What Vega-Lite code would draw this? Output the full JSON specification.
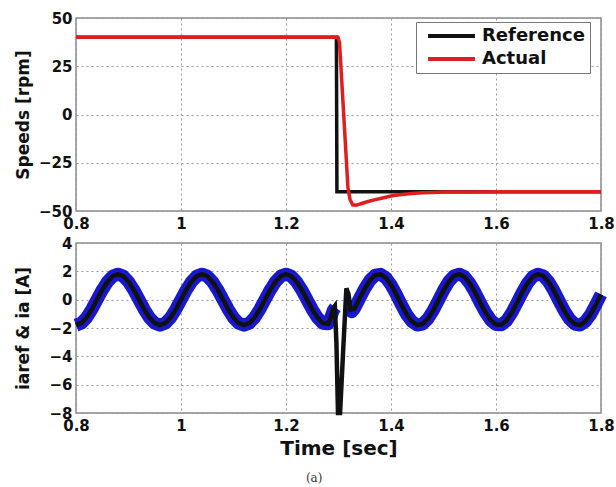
{
  "$schema": "https://vega.github.io/schema/vega-lite/v6.json",
  "padding": {"left": 13, "top": 10, "right": 3, "bottom": 4},
  "bounds": "flush",
  "spacing": 32,
  "title": {
    "text": "(a)",
    "orient": "bottom",
    "anchor": "middle",
    "font": "DejaVu Serif",
    "fontSize": 12,
    "fontWeight": "normal",
    "color": "#333",
    "offset": 14
  },
  "datasets": {
    "speed": [
      {"t": 0.8, "rpm": 40, "series": "Reference"},
      {"t": 1.296, "rpm": 40, "series": "Reference"},
      {"t": 1.297, "rpm": -40, "series": "Reference"},
      {"t": 1.8, "rpm": -40, "series": "Reference"},
      {"t": 0.8, "rpm": 40, "series": "Actual"},
      {"t": 1.299, "rpm": 40, "series": "Actual"},
      {"t": 1.302, "rpm": 37, "series": "Actual"},
      {"t": 1.318, "rpm": -38, "series": "Actual"},
      {"t": 1.322, "rpm": -44, "series": "Actual"},
      {"t": 1.327, "rpm": -46.8, "series": "Actual"},
      {"t": 1.333, "rpm": -47, "series": "Actual"},
      {"t": 1.34, "rpm": -46.5, "series": "Actual"},
      {"t": 1.35, "rpm": -45.6, "series": "Actual"},
      {"t": 1.36, "rpm": -44.8, "series": "Actual"},
      {"t": 1.37, "rpm": -44.1, "series": "Actual"},
      {"t": 1.38, "rpm": -43.5, "series": "Actual"},
      {"t": 1.4, "rpm": -42.2, "series": "Actual"},
      {"t": 1.42, "rpm": -41.4, "series": "Actual"},
      {"t": 1.44, "rpm": -40.9, "series": "Actual"},
      {"t": 1.46, "rpm": -40.6, "series": "Actual"},
      {"t": 1.48, "rpm": -40.4, "series": "Actual"},
      {"t": 1.5, "rpm": -40.2, "series": "Actual"},
      {"t": 1.55, "rpm": -40.1, "series": "Actual"},
      {"t": 1.6, "rpm": -40, "series": "Actual"},
      {"t": 1.8, "rpm": -40, "series": "Actual"}
    ],
    "ia": [
      {"t": 0.8, "i": -1.8, "seg": "a"}, {"t": 0.81, "i": -1.66, "seg": "a"}, {"t": 0.82, "i": -1.27, "seg": "a"},
      {"t": 0.83, "i": -0.69, "seg": "a"}, {"t": 0.84, "i": 0, "seg": "a"}, {"t": 0.85, "i": 0.69, "seg": "a"},
      {"t": 0.86, "i": 1.27, "seg": "a"}, {"t": 0.87, "i": 1.66, "seg": "a"}, {"t": 0.88, "i": 1.8, "seg": "a"},
      {"t": 0.89, "i": 1.66, "seg": "a"}, {"t": 0.9, "i": 1.27, "seg": "a"}, {"t": 0.91, "i": 0.69, "seg": "a"},
      {"t": 0.92, "i": 0, "seg": "a"}, {"t": 0.93, "i": -0.69, "seg": "a"}, {"t": 0.94, "i": -1.27, "seg": "a"},
      {"t": 0.95, "i": -1.66, "seg": "a"}, {"t": 0.96, "i": -1.8, "seg": "a"}, {"t": 0.97, "i": -1.66, "seg": "a"},
      {"t": 0.98, "i": -1.27, "seg": "a"}, {"t": 0.99, "i": -0.69, "seg": "a"}, {"t": 1.0, "i": 0, "seg": "a"},
      {"t": 1.01, "i": 0.69, "seg": "a"}, {"t": 1.02, "i": 1.27, "seg": "a"}, {"t": 1.03, "i": 1.66, "seg": "a"},
      {"t": 1.04, "i": 1.8, "seg": "a"}, {"t": 1.05, "i": 1.66, "seg": "a"}, {"t": 1.06, "i": 1.27, "seg": "a"},
      {"t": 1.07, "i": 0.69, "seg": "a"}, {"t": 1.08, "i": 0, "seg": "a"}, {"t": 1.09, "i": -0.69, "seg": "a"},
      {"t": 1.1, "i": -1.27, "seg": "a"}, {"t": 1.11, "i": -1.66, "seg": "a"}, {"t": 1.12, "i": -1.8, "seg": "a"},
      {"t": 1.13, "i": -1.66, "seg": "a"}, {"t": 1.14, "i": -1.27, "seg": "a"}, {"t": 1.15, "i": -0.69, "seg": "a"},
      {"t": 1.16, "i": 0, "seg": "a"}, {"t": 1.17, "i": 0.69, "seg": "a"}, {"t": 1.18, "i": 1.27, "seg": "a"},
      {"t": 1.19, "i": 1.66, "seg": "a"}, {"t": 1.2, "i": 1.8, "seg": "a"}, {"t": 1.21, "i": 1.66, "seg": "a"},
      {"t": 1.22, "i": 1.27, "seg": "a"}, {"t": 1.23, "i": 0.69, "seg": "a"}, {"t": 1.24, "i": 0, "seg": "a"},
      {"t": 1.25, "i": -0.69, "seg": "a"}, {"t": 1.26, "i": -1.27, "seg": "a"}, {"t": 1.27, "i": -1.66, "seg": "a"},
      {"t": 1.28, "i": -1.7, "seg": "a"}, {"t": 1.285, "i": -1.3, "seg": "a"}, {"t": 1.29, "i": -0.75, "seg": "a"},
      {"t": 1.294, "i": -0.55, "seg": "a"},
      {"t": 1.318, "i": -0.5, "seg": "b"}, {"t": 1.325, "i": -0.85, "seg": "b"}, {"t": 1.33, "i": -0.65, "seg": "b"},
      {"t": 1.34, "i": 0.08, "seg": "b"}, {"t": 1.35, "i": 0.79, "seg": "b"}, {"t": 1.36, "i": 1.37, "seg": "b"},
      {"t": 1.37, "i": 1.73, "seg": "b"}, {"t": 1.38, "i": 1.79, "seg": "b"}, {"t": 1.39, "i": 1.55, "seg": "b"},
      {"t": 1.4, "i": 1.05, "seg": "b"}, {"t": 1.41, "i": 0.37, "seg": "b"}, {"t": 1.42, "i": -0.37, "seg": "b"},
      {"t": 1.43, "i": -1.05, "seg": "b"}, {"t": 1.44, "i": -1.55, "seg": "b"}, {"t": 1.45, "i": -1.79, "seg": "b"},
      {"t": 1.46, "i": -1.72, "seg": "b"}, {"t": 1.47, "i": -1.37, "seg": "b"}, {"t": 1.48, "i": -0.79, "seg": "b"},
      {"t": 1.49, "i": -0.08, "seg": "b"}, {"t": 1.5, "i": 0.65, "seg": "b"}, {"t": 1.51, "i": 1.27, "seg": "b"},
      {"t": 1.52, "i": 1.68, "seg": "b"}, {"t": 1.53, "i": 1.8, "seg": "b"}, {"t": 1.54, "i": 1.62, "seg": "b"},
      {"t": 1.55, "i": 1.15, "seg": "b"}, {"t": 1.56, "i": 0.52, "seg": "b"}, {"t": 1.57, "i": -0.22, "seg": "b"},
      {"t": 1.58, "i": -0.9, "seg": "b"}, {"t": 1.59, "i": -1.45, "seg": "b"}, {"t": 1.6, "i": -1.76, "seg": "b"},
      {"t": 1.61, "i": -1.77, "seg": "b"}, {"t": 1.62, "i": -1.49, "seg": "b"}, {"t": 1.63, "i": -0.92, "seg": "b"},
      {"t": 1.64, "i": -0.22, "seg": "b"}, {"t": 1.65, "i": 0.51, "seg": "b"}, {"t": 1.66, "i": 1.16, "seg": "b"},
      {"t": 1.67, "i": 1.62, "seg": "b"}, {"t": 1.68, "i": 1.8, "seg": "b"}, {"t": 1.69, "i": 1.68, "seg": "b"},
      {"t": 1.7, "i": 1.27, "seg": "b"}, {"t": 1.71, "i": 0.65, "seg": "b"}, {"t": 1.72, "i": -0.08, "seg": "b"},
      {"t": 1.73, "i": -0.79, "seg": "b"}, {"t": 1.74, "i": -1.37, "seg": "b"}, {"t": 1.75, "i": -1.72, "seg": "b"},
      {"t": 1.76, "i": -1.79, "seg": "b"}, {"t": 1.77, "i": -1.55, "seg": "b"}, {"t": 1.78, "i": -1.05, "seg": "b"},
      {"t": 1.79, "i": -0.37, "seg": "b"}, {"t": 1.8, "i": 0.37, "seg": "b"}
    ],
    "iaref": [
      {"t": 0.8, "i": -1.8}, {"t": 0.81, "i": -1.66}, {"t": 0.82, "i": -1.27}, {"t": 0.83, "i": -0.69},
      {"t": 0.84, "i": 0}, {"t": 0.85, "i": 0.69}, {"t": 0.86, "i": 1.27}, {"t": 0.87, "i": 1.66},
      {"t": 0.88, "i": 1.8}, {"t": 0.89, "i": 1.66}, {"t": 0.9, "i": 1.27}, {"t": 0.91, "i": 0.69},
      {"t": 0.92, "i": 0}, {"t": 0.93, "i": -0.69}, {"t": 0.94, "i": -1.27}, {"t": 0.95, "i": -1.66},
      {"t": 0.96, "i": -1.8}, {"t": 0.97, "i": -1.66}, {"t": 0.98, "i": -1.27}, {"t": 0.99, "i": -0.69},
      {"t": 1.0, "i": 0}, {"t": 1.01, "i": 0.69}, {"t": 1.02, "i": 1.27}, {"t": 1.03, "i": 1.66},
      {"t": 1.04, "i": 1.8}, {"t": 1.05, "i": 1.66}, {"t": 1.06, "i": 1.27}, {"t": 1.07, "i": 0.69},
      {"t": 1.08, "i": 0}, {"t": 1.09, "i": -0.69}, {"t": 1.1, "i": -1.27}, {"t": 1.11, "i": -1.66},
      {"t": 1.12, "i": -1.8}, {"t": 1.13, "i": -1.66}, {"t": 1.14, "i": -1.27}, {"t": 1.15, "i": -0.69},
      {"t": 1.16, "i": 0}, {"t": 1.17, "i": 0.69}, {"t": 1.18, "i": 1.27}, {"t": 1.19, "i": 1.66},
      {"t": 1.2, "i": 1.8}, {"t": 1.21, "i": 1.66}, {"t": 1.22, "i": 1.27}, {"t": 1.23, "i": 0.69},
      {"t": 1.24, "i": 0}, {"t": 1.25, "i": -0.69}, {"t": 1.26, "i": -1.27}, {"t": 1.27, "i": -1.66},
      {"t": 1.28, "i": -1.7}, {"t": 1.285, "i": -1.3}, {"t": 1.29, "i": -0.6}, {"t": 1.293, "i": -0.45},
      {"t": 1.296, "i": -3}, {"t": 1.299, "i": -8}, {"t": 1.303, "i": -8}, {"t": 1.309, "i": -3.5},
      {"t": 1.315, "i": 0.8}, {"t": 1.319, "i": 0.4}, {"t": 1.323, "i": -0.7}, {"t": 1.33, "i": -0.65},
      {"t": 1.34, "i": 0.08}, {"t": 1.35, "i": 0.79}, {"t": 1.36, "i": 1.37}, {"t": 1.37, "i": 1.73},
      {"t": 1.38, "i": 1.79}, {"t": 1.39, "i": 1.55}, {"t": 1.4, "i": 1.05}, {"t": 1.41, "i": 0.37},
      {"t": 1.42, "i": -0.37}, {"t": 1.43, "i": -1.05}, {"t": 1.44, "i": -1.55}, {"t": 1.45, "i": -1.79},
      {"t": 1.46, "i": -1.72}, {"t": 1.47, "i": -1.37}, {"t": 1.48, "i": -0.79}, {"t": 1.49, "i": -0.08},
      {"t": 1.5, "i": 0.65}, {"t": 1.51, "i": 1.27}, {"t": 1.52, "i": 1.68}, {"t": 1.53, "i": 1.8},
      {"t": 1.54, "i": 1.62}, {"t": 1.55, "i": 1.15}, {"t": 1.56, "i": 0.52}, {"t": 1.57, "i": -0.22},
      {"t": 1.58, "i": -0.9}, {"t": 1.59, "i": -1.45}, {"t": 1.6, "i": -1.76}, {"t": 1.61, "i": -1.77},
      {"t": 1.62, "i": -1.49}, {"t": 1.63, "i": -0.92}, {"t": 1.64, "i": -0.22}, {"t": 1.65, "i": 0.51},
      {"t": 1.66, "i": 1.16}, {"t": 1.67, "i": 1.62}, {"t": 1.68, "i": 1.8}, {"t": 1.69, "i": 1.68},
      {"t": 1.7, "i": 1.27}, {"t": 1.71, "i": 0.65}, {"t": 1.72, "i": -0.08}, {"t": 1.73, "i": -0.79},
      {"t": 1.74, "i": -1.37}, {"t": 1.75, "i": -1.72}, {"t": 1.76, "i": -1.79}, {"t": 1.77, "i": -1.55},
      {"t": 1.78, "i": -1.05}, {"t": 1.79, "i": -0.37}, {"t": 1.8, "i": 0.37}
    ]
  },
  "vconcat": [
    {
      "width": 525,
      "height": 193,
      "data": {"name": "speed"},
      "encoding": {
        "x": {
          "field": "t", "type": "quantitative",
          "scale": {"domain": [0.8, 1.8], "nice": false, "zero": false},
          "axis": {"values": [0.8, 1, 1.2, 1.4, 1.6, 1.8], "format": "~g", "title": null, "labelPadding": 5}
        },
        "y": {
          "field": "rpm", "type": "quantitative",
          "scale": {"domain": [-50, 50], "nice": false, "zero": false},
          "axis": {
            "values": [-50, -25, 0, 25, 50],
            "title": "Speeds [rpm]",
            "titleFontSize": 17,
            "titleX": -53,
            "titleY": 96.5,
            "titleBaseline": "middle",
            "labelPadding": 4
          }
        },
        "color": {
          "field": "series", "type": "nominal",
          "scale": {"domain": ["Reference", "Actual"], "range": ["#111111", "#dd1f1f"]},
          "legend": {
            "title": null,
            "orient": "none",
            "legendX": 340,
            "legendY": 4,
            "symbolType": "stroke",
            "symbolSize": 2200,
            "symbolStrokeWidth": 4,
            "symbolOffset": 5,
            "clipHeight": 18,
            "labelFont": "DejaVu Sans",
            "labelFontSize": 18,
            "labelFontWeight": "bold",
            "labelColor": "#111",
            "labelOffset": 5,
            "rowPadding": 5,
            "padding": 5,
            "strokeColor": "#777",
            "fillColor": "white"
          }
        }
      },
      "layer": [
        {
          "transform": [{"filter": "datum.series === 'Reference'"}],
          "mark": {"type": "line", "strokeWidth": 3.5}
        },
        {
          "transform": [{"filter": "datum.series === 'Actual'"}],
          "mark": {"type": "line", "strokeWidth": 3.5}
        }
      ]
    },
    {
      "width": 525,
      "height": 170,
      "encoding": {
        "x": {
          "field": "t", "type": "quantitative",
          "scale": {"domain": [0.8, 1.8], "nice": false, "zero": false},
          "axis": {"values": [0.8, 1, 1.2, 1.4, 1.6, 1.8], "format": "~g", "title": "Time [sec]", "titleFontSize": 20, "titlePadding": 5, "labelPadding": 5}
        },
        "y": {
          "field": "i", "type": "quantitative",
          "scale": {"domain": [-8, 4], "nice": false, "zero": false},
          "axis": {
            "values": [-8, -6, -4, -2, 0, 2, 4],
            "title": "iaref & ia [A]",
            "titleFontSize": 17,
            "titleX": -53,
            "titleY": 85,
            "titleBaseline": "middle",
            "labelPadding": 4
          }
        }
      },
      "layer": [
        {
          "data": {"name": "ia"},
          "mark": {"type": "line", "strokeWidth": 13, "color": "#1818d0", "strokeJoin": "round"},
          "encoding": {"detail": {"field": "seg"}}
        },
        {
          "data": {"name": "iaref"},
          "mark": {"type": "line", "strokeWidth": 4.5, "color": "#111111"}
        }
      ]
    }
  ],
  "config": {
    "font": "DejaVu Sans",
    "view": {"stroke": "#8a8a8a", "strokeWidth": 1.5},
    "axis": {
      "labelFont": "DejaVu Sans",
      "labelFontWeight": "bold",
      "labelFontSize": 15,
      "labelColor": "#111",
      "labelFlush": false,
      "labelOverlap": false,
      "ticks": false,
      "domain": false,
      "grid": true,
      "gridColor": "#9a9a9a",
      "gridDash": [2, 3],
      "gridWidth": 1,
      "titleFont": "DejaVu Sans",
      "titleFontWeight": "bold",
      "titleColor": "#111"
    }
  }
}
